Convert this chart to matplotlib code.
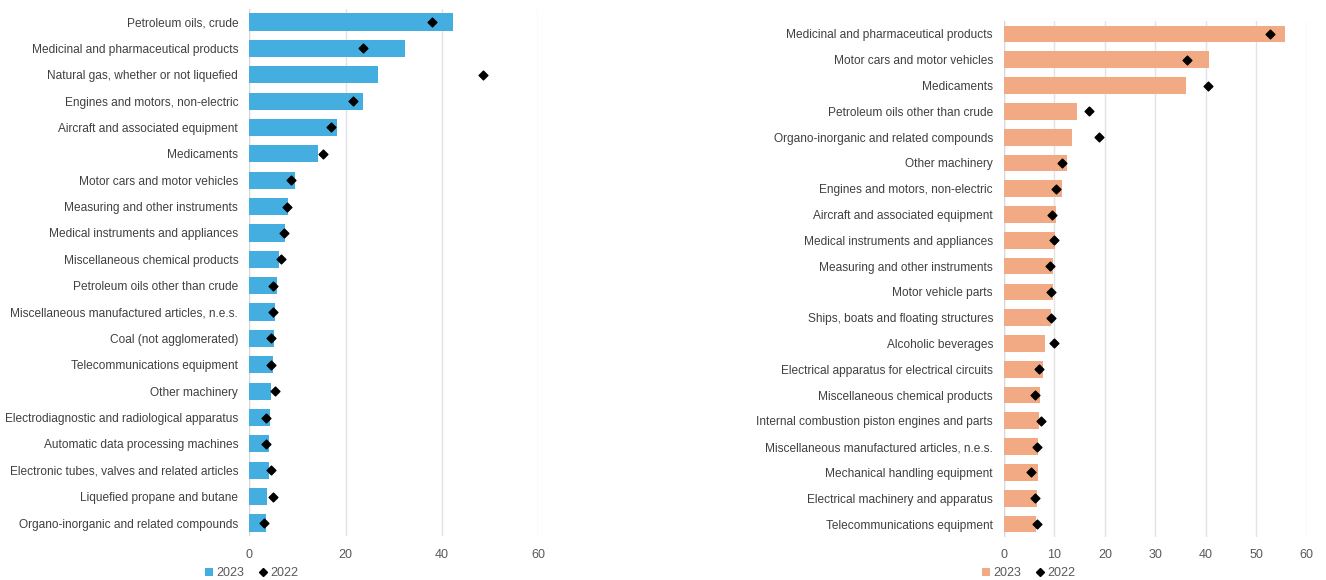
import matplotlib
matplotlib.use("Agg")
import matplotlib.pyplot as plt
from matplotlib.lines import Line2D
from matplotlib.patches import Patch

plt.rcParams['font.family'] = ['Liberation Sans', 'DejaVu Sans']

left_categories = [
    "Petroleum oils, crude",
    "Medicinal and pharmaceutical products",
    "Natural gas, whether or not liquefied",
    "Engines and motors, non-electric",
    "Aircraft and associated equipment",
    "Medicaments",
    "Motor cars and motor vehicles",
    "Measuring and other instruments",
    "Medical instruments and appliances",
    "Miscellaneous chemical products",
    "Petroleum oils other than crude",
    "Miscellaneous manufactured articles, n.e.s.",
    "Coal (not agglomerated)",
    "Telecommunications equipment",
    "Other machinery",
    "Electrodiagnostic and radiological apparatus",
    "Automatic data processing machines",
    "Electronic tubes, valves and related articles",
    "Liquefied propane and butane",
    "Organo-inorganic and related compounds",
]
left_2023 = [42.2, 32.3, 26.7, 23.7, 18.2, 14.2, 9.5, 8.0, 7.5, 6.2,
             5.7, 5.3, 5.1, 4.9, 4.5, 4.3, 4.15, 4.0, 3.7, 3.4]
left_2022 = [37.9, 23.7, 48.6, 21.5, 16.9, 15.4, 8.6, 7.8, 7.2, 6.5,
             4.9, 4.9, 4.6, 4.6, 5.3, 3.4, 3.5, 4.6, 5.0, 3.1]

right_categories = [
    "Medicinal and pharmaceutical products",
    "Motor cars and motor vehicles",
    "Medicaments",
    "Petroleum oils other than crude",
    "Organo-inorganic and related compounds",
    "Other machinery",
    "Engines and motors, non-electric",
    "Aircraft and associated equipment",
    "Medical instruments and appliances",
    "Measuring and other instruments",
    "Motor vehicle parts",
    "Ships, boats and floating structures",
    "Alcoholic beverages",
    "Electrical apparatus for electrical circuits",
    "Miscellaneous chemical products",
    "Internal combustion piston engines and parts",
    "Miscellaneous manufactured articles, n.e.s.",
    "Mechanical handling equipment",
    "Electrical machinery and apparatus",
    "Telecommunications equipment",
]
right_2023 = [55.6, 40.6, 36.1, 14.5, 13.5, 12.5, 11.4, 10.4, 10.2, 9.7,
              9.7, 9.3, 8.2, 7.8, 7.2, 7.0, 6.7, 6.7, 6.5, 6.3]
right_2022 = [52.8, 36.3, 40.4, 16.9, 18.8, 11.4, 10.4, 9.6, 10.0, 9.1,
              9.3, 9.3, 9.85, 6.9, 6.2, 7.3, 6.6, 5.35, 6.1, 6.5]

left_ticks = [0, 20, 40, 60]
right_ticks = [0, 10, 20, 30, 40, 50, 60]

BLUE = "#45AEE0"
SALMON = "#F2AA84"
GRID = "#E3E3E3"
TEXT = "#404040"
TICK = "#595959"
FS = 8.6

W, H = 1326, 580
fig = plt.figure(figsize=(W / 100, H / 100), dpi=100)


def px_axes(x0, x1, y0, y1):
    return fig.add_axes([x0 / W, 1 - y1 / H, (x1 - x0) / W, (y1 - y0) / H])


def draw(ax, cats, v23, v22, color, ticks):
    n = len(cats)
    ys = list(range(n))
    ax.barh(ys, v23, height=0.65, color=color, zorder=2)
    ax.scatter(v22, ys, marker="D", s=20, color="black", zorder=3)
    ax.set_ylim(n - 0.5, -0.5)
    ax.set_xlim(0, 60)
    ax.set_yticks(ys)
    ax.set_yticklabels(cats, fontsize=FS, color=TEXT)
    ax.set_xticks(ticks)
    ax.set_xticklabels([str(t) for t in ticks], fontsize=9, color=TICK)
    ax.tick_params(axis="both", length=0)
    ax.tick_params(axis="y", pad=8)
    ax.tick_params(axis="x", pad=9)
    for s in ax.spines.values():
        s.set_visible(False)
    ax.grid(axis="x", color=GRID, linewidth=1.0, zorder=0)
    ax.axvline(0, color="#D9D9D9", linewidth=1.0, zorder=1)
    ax.set_axisbelow(True)


ax1 = px_axes(249.3, 538.3, 8.8, 536.2)
draw(ax1, left_categories, left_2023, left_2022, BLUE, left_ticks)

ax2 = px_axes(1004, 1306.7, 21.1, 536.9)
draw(ax2, right_categories, right_2023, right_2022, SALMON, right_ticks)


def legend(color, cx):
    handles = [
        Patch(facecolor=color, edgecolor="none"),
        Line2D([], [], marker="D", linestyle="none", color="black", markersize=4),
    ]
    fig.legend(handles, ["2023", "2022"], loc="center", bbox_to_anchor=(cx / W, 1 - 573 / H),
               ncol=2, frameon=False, fontsize=9, handlelength=0.6, handleheight=0.6,
               handletextpad=0.3, columnspacing=1.2, labelcolor=TICK, borderpad=0)


legend(BLUE, 252)
legend(SALMON, 1029)

fig.savefig("out.png", dpi=100)
